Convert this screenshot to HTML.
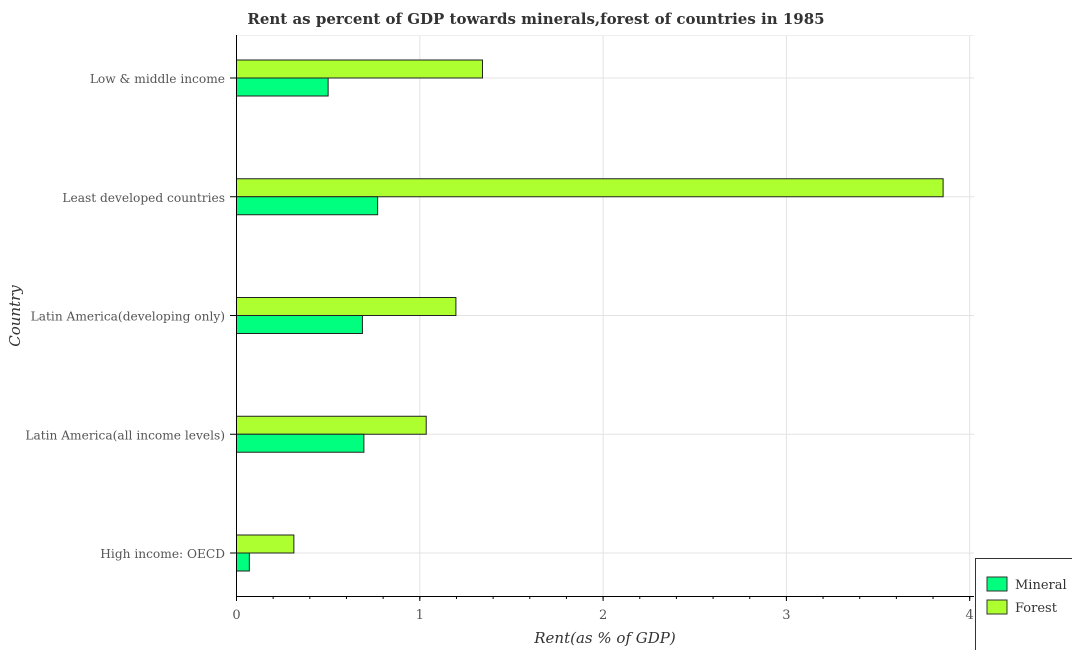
<!DOCTYPE html>
<html><head><meta charset="utf-8"><style>
body{margin:0;background:#fff;}
svg{display:block;font-family:"DejaVu Serif","Liberation Serif",serif;}
</style></head><body>
<svg id="chart" width="1072" height="650">
<text x="536" y="24" text-anchor="middle" font-size="15" font-weight="bold" fill="#333">Rent as percent of GDP towards minerals,forest of countries in 1985</text>
<rect x="236" y="35" width="738" height="561" fill="#fff"/>
<g id="grid"></g>
<g id="bars"></g>
<g id="axes"></g>
<text x="605" y="643" text-anchor="middle" font-size="15" font-style="italic" fill="#333">Rent(as % of GDP)</text>
<text transform="translate(20,316) rotate(-90)" text-anchor="middle" font-size="15" font-style="italic" fill="#333">Country</text>
<g>
<rect x="975.5" y="558.5" width="100" height="95" fill="#fff" stroke="#333"/>
<rect x="987" y="577" width="20" height="14" fill="#00ff7f" stroke="#333"/>
<text x="1015" y="589" font-size="13" fill="#333">Mineral</text>
<rect x="987" y="600" width="20" height="14" fill="#adff2f" stroke="#333"/>
<text x="1015" y="612" font-size="13" fill="#333">Forest</text>
</g>
</svg>
<script>
const categories=["High income: OECD","Latin America(all income levels)","Latin America(developing only)","Least developed countries","Low & middle income"];
const mineral=[0.07,0.695,0.687,0.77,0.50];
const forest=[0.313,1.035,1.197,3.855,1.342];
const xTicks=[0,1,2,3,4];
const NS="http://www.w3.org/2000/svg";
const x0=236.5, pxPer=183.3;
function xs(v){return x0+v*pxPer;}
function ys(i){return 553-118.75*i;}
function mk(tag,attrs,parent){const e=document.createElementNS(NS,tag);for(const k in attrs)e.setAttribute(k,attrs[k]);parent.appendChild(e);return e;}
const grid=document.getElementById('grid'),bars=document.getElementById('bars'),axes=document.getElementById('axes');
xTicks.forEach(t=>{const g=mk('line',{x1:xs(t),x2:xs(t),y1:35,y2:596,stroke:'#e3e3e3'},grid);


const tl=mk('text',{x:xs(t),y:619,'text-anchor':'middle','font-size':13,fill:'#555'},axes);tl.textContent=t;


mk('line',{x1:xs(t),x2:xs(t),y1:596,y2:601,stroke:'#000'},axes);});
for(let v=0.2;v<4.3;v+=0.2){mk('line',{x1:xs(v),x2:xs(v),y1:596,y2:599,stroke:'#000'},axes);}
mk('line',{x1:236,x2:974,y1:35.5,y2:35.5,stroke:'#eee'},grid);
categories.forEach((c,i)=>{const y=ys(i);
const gl=mk('line',{x1:236,x2:974,y1:y,y2:y,stroke:'#e3e3e3'},grid);


const f=mk('rect',{x:x0,y:y-18,width:xs(forest[i])-x0,height:18,fill:'#adff2f',stroke:'#222','stroke-width':1},bars);


const m=mk('rect',{x:x0,y:y,width:xs(mineral[i])-x0,height:18,fill:'#00ff7f',stroke:'#222','stroke-width':1},bars);


const l=mk('text',{x:225,y:y+5,'text-anchor':'end','font-size':12.2,fill:'#555'},axes);l.textContent=c;


mk('line',{x1:230,x2:236,y1:y,y2:y,stroke:'#000'},axes);});
mk('line',{x1:236.5,x2:236.5,y1:35,y2:596,stroke:'#000'},axes);
mk('line',{x1:236,x2:974,y1:596.5,y2:596.5,stroke:'#000'},axes);
</script>
</body></html>
